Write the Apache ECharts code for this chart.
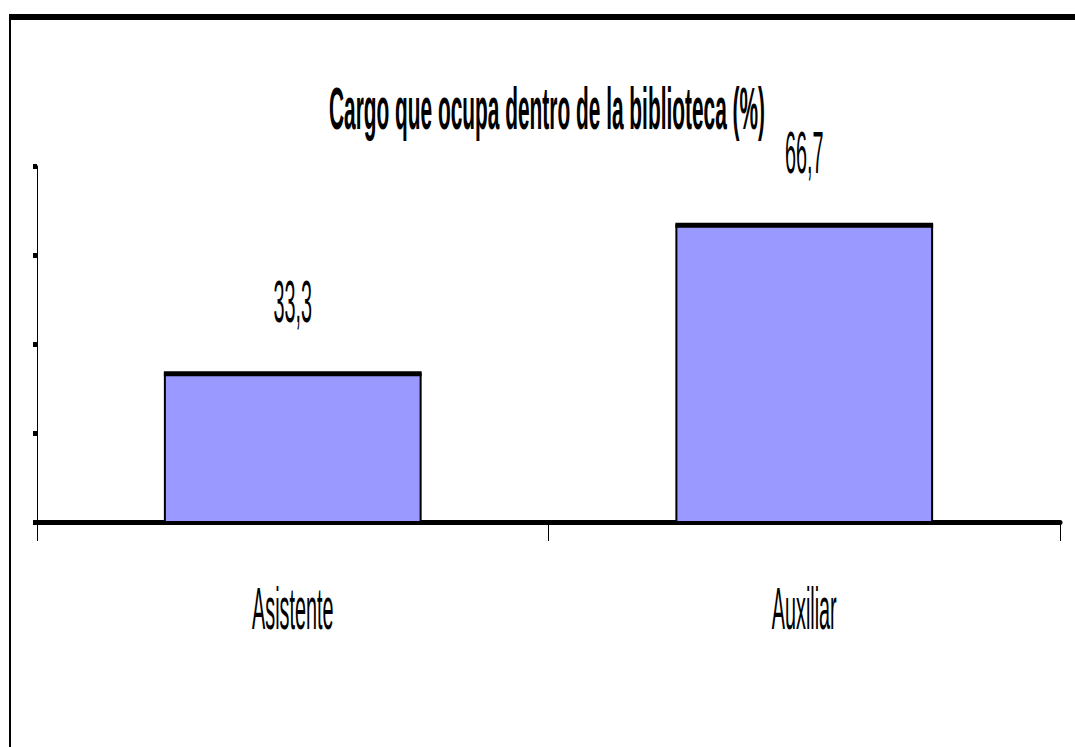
<!DOCTYPE html>
<html><head><meta charset="utf-8">
<script src="https://cdn.jsdelivr.net/npm/echarts@6/dist/echarts.min.js"></script>
<style>html,body{margin:0;padding:0;background:#fff}#c{width:1075px;height:747px}</style>
</head><body><div id="c"></div>
<script>
const titleText = 'Cargo que ocupa dentro de la biblioteca (%)';
const categories = ['Asistente', 'Auxiliar'];
const values = [33.3, 66.7];
const valueLabels = ['33,3', '66,7'];
const yMin = 0, yMax = 80, yInterval = 20;

const FONT = '"Liberation Sans", Arial, sans-serif';
const mc = document.createElement('canvas').getContext('2d');
mc.font = 'bold 60px ' + FONT;
const titleScale = 436 / mc.measureText(titleText).width;
const textScale = 0.33;

function renderItem(params, api) {
  const i = api.value(0), v = api.value(1);
  const top = api.coord([i, v]);
  const base = api.coord([i, 0]);
  const bw = api.size([1, 0])[0] * 0.5;
  const x0 = top[0] - bw / 2;
  return {
    type: 'group',
    children: [
      { type: 'rect', shape: { x: x0, y: top[1], width: bw, height: base[1] - top[1] },
        style: { fill: '#9999FF', stroke: '#000', lineWidth: 2 } },
      { type: 'line', shape: { x1: x0 - 1, y1: top[1], x2: x0 + bw + 1, y2: top[1] },
        style: { stroke: '#000', lineWidth: 5 } },
      { type: 'text', x: top[0], y: top[1] - 73, scaleX: textScale,
        style: { text: valueLabels[i], fontSize: 60, fontFamily: FONT, fill: '#000',
                 align: 'center', verticalAlign: 'middle' } },
      { type: 'text', x: base[0], y: base[1] + 86, scaleX: textScale,
        style: { text: categories[i], fontSize: 60, fontFamily: FONT, fill: '#000',
                 align: 'center', verticalAlign: 'middle' } }
    ]
  };
}

const chart = echarts.init(document.getElementById('c'), null, { renderer: 'svg' });
chart.setOption({
  animation: false,
  backgroundColor: '#fff',
  grid: { left: 37, right: 15, top: 166, bottom: 225 },
  xAxis: {
    type: 'category', data: categories, boundaryGap: true,
    axisLine: { lineStyle: { color: '#000', width: 5 } },
    axisTick: { show: true, length: 19, lineStyle: { color: '#000', width: 1 } },
    axisLabel: { show: false }, splitLine: { show: false }
  },
  yAxis: {
    type: 'value', min: yMin, max: yMax, interval: yInterval,
    axisLine: { show: true, lineStyle: { color: '#000', width: 1 } },
    axisTick: { show: true, length: 4, lineStyle: { color: '#000', width: 5 } },
    axisLabel: { show: false }, splitLine: { show: false }
  },
  graphic: [
    { type: 'rect', shape: { x: 9, y: 14, width: 1066, height: 6 }, style: { fill: '#000' } },
    { type: 'rect', shape: { x: 9, y: 14, width: 2, height: 733 }, style: { fill: '#000' } },
    { type: 'text', x: 547, y: 108, scaleX: titleScale,
      style: { text: titleText, fontSize: 60, fontWeight: 'bold', fontFamily: FONT, fill: '#000',
               align: 'center', verticalAlign: 'middle' } }
  ],
  series: [{
    type: 'custom', renderItem: renderItem, clip: false,
    data: values.map((v, i) => [i, v])
  }]
});
</script></body></html>
